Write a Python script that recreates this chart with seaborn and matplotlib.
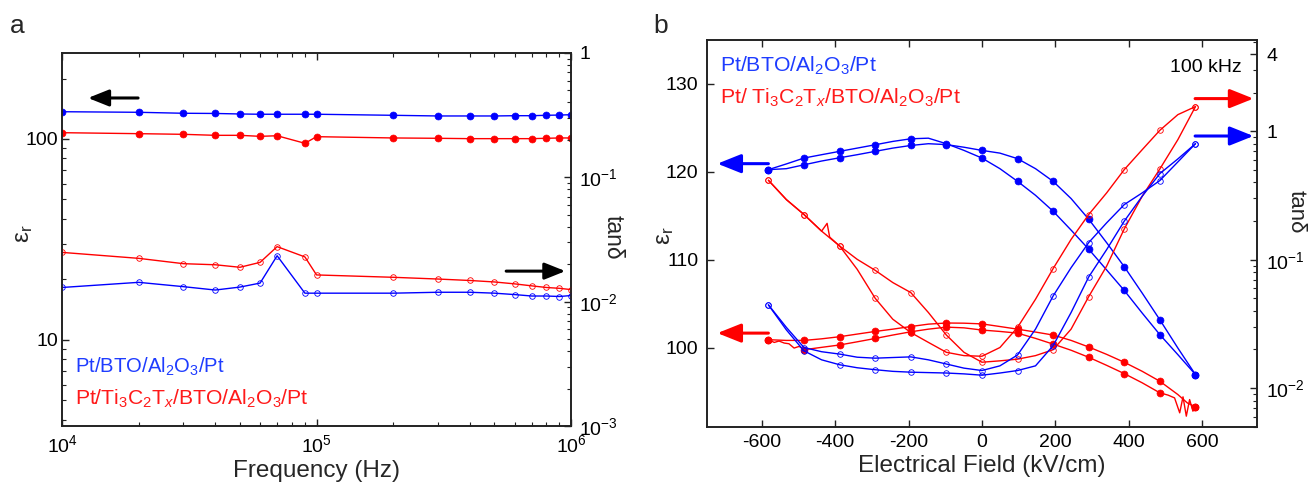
import numpy as np
import matplotlib
matplotlib.use("Agg")
import matplotlib.pyplot as plt
from matplotlib import ticker
import seaborn as sns

# ---------------- data: panel a (frequency dependence) ----------------
freq = [1e4, 2e4, 3e4, 4e4, 5e4, 6e4, 7e4, 9e4, 1e5, 2e5, 3e5, 4e5, 5e5, 6e5, 7e5, 8e5, 9e5, 1e6]
eps_blue_f = [136.7, 135.8, 134.3, 134.0, 133.2, 132.8, 132.8, 132.8, 132.8, 131.2, 130.2, 130.2,
              130.2, 130.6, 130.6, 131.2, 131.6, 132.1]
eps_red_f = [107.5, 106.3, 105.5, 104.3, 104.3, 103.1, 103.8, 95.2, 102.7, 101.2, 100.8, 100.4,
             100.4, 100.4, 100.4, 100.8, 101.2, 101.2]
tan_blue_f = [0.0130, 0.0143, 0.0132, 0.0124, 0.0131, 0.0141, 0.0234, 0.0117, 0.0117, 0.0117, 0.0119,
              0.0119, 0.0117, 0.0114, 0.0111, 0.0111, 0.0110, 0.0112]
tan_red_f = [0.0249, 0.0223, 0.0202, 0.0198, 0.0189, 0.0207, 0.0277, 0.0229, 0.0164, 0.0157, 0.0152,
             0.0148, 0.0144, 0.0139, 0.0134, 0.0130, 0.0128, 0.0125]

# ---------------- data: panel b (field dependence, 100 kHz) ----------------
E_marks = [-582, -485, -388, -291, -194, -97, 0, 97, 194, 291, 388, 485, 582]
E_grid = [-582, -533, -485, -437, -388, -340, -291, -243, -194, -146, -97, -49, 0,
          49, 97, 146, 194, 243, 291, 340, 388, 437, 485, 534, 582]

eps_blue_1 = [120.25, 120.9, 121.57, 121.95, 122.33, 122.7, 123.08, 123.46, 123.76, 123.83, 123.2, 122.44,
              121.57, 120.36, 118.92, 117.33, 115.52, 113.37, 111.2, 108.83, 106.5, 103.92, 101.47, 99.2, 96.93]
eps_blue_2 = [120.25, 120.36, 120.8, 121.23, 121.6, 121.95, 122.33, 122.7, 123.0, 123.2, 123.1, 122.8,
              122.44, 122.13, 121.5, 120.36, 118.92, 116.96, 114.61, 111.93, 109.2, 106.19, 103.16, 99.95, 96.93]

E_red_u = [-582, -533, -485, -437, -388, -340, -291, -243, -194, -146, -97, -49, 0,
           49, 97, 146, 194, 243, 291, 340, 388, 437, 485, 534, 560, 582]
eps_red_u = [100.9, 100.82, 100.82, 101.0, 101.24, 101.54, 101.84, 102.1, 102.4, 102.67, 102.8, 102.78,
             102.7, 102.4, 102.1, 101.77, 101.43, 100.82, 100.07, 99.23, 98.33, 97.3, 96.17, 94.66, 93.7, 93.26]
E_red_l = [-582, -566, -553, -539, -526, -512, -498, -485, -437, -388, -340, -291, -243, -194, -146, -97,
           -49, 0, 49, 97, 146, 194, 243, 291, 340, 388, 437, 485, 507, 525, 539, 548, 557, 566, 575, 582]
eps_red_l = [100.9, 100.59, 100.75, 100.52, 100.44, 99.95, 100.14, 99.76, 100.03, 100.3, 100.66, 101.04,
             101.43, 101.8, 102.1, 102.33, 102.25, 102.0, 101.84, 101.65, 101.05, 100.4, 99.7, 98.9, 97.98,
             97.04, 95.99, 94.85, 94.6, 94.28, 92.58, 94.4, 92.2, 94.09, 92.77, 93.26]

tan_blue_1 = [0.0445, 0.0297, 0.0207, 0.0192, 0.0184, 0.0174, 0.0171, 0.0173, 0.0175, 0.0166, 0.0154, 0.0143,
              0.0137, 0.0149, 0.0181, 0.0288, 0.0522, 0.0867, 0.136, 0.194, 0.269, 0.332, 0.414, 0.578, 0.802]
tan_blue_2 = [0.0445, 0.0284, 0.0195, 0.0166, 0.0152, 0.0144, 0.0139, 0.0135, 0.0133, 0.0132, 0.0131, 0.0129,
              0.0126, 0.0131, 0.0137, 0.0149, 0.0214, 0.0388, 0.0734, 0.120, 0.200, 0.313, 0.469, 0.61, 0.802]

E_tan_red_1 = [-582, -533, -485, -437, -422, -415, -388, -340, -291, -243, -194, -146, -97, -49, 0,
               49, 97, 146, 194, 243, 291, 340, 388, 437, 485, 534, 582]
tan_red_1 = [0.416, 0.294, 0.225, 0.167, 0.192, 0.150, 0.128, 0.0842, 0.0501, 0.0344, 0.0271, 0.0227,
             0.0190, 0.0179, 0.0177, 0.0207, 0.0297, 0.0492, 0.0853, 0.144, 0.225, 0.332, 0.504, 0.721,
             1.02, 1.35, 1.56]
tan_red_2 = [0.416, 0.294, 0.225, 0.167, 0.128, 0.1007, 0.0827, 0.0664, 0.0555, 0.0388, 0.0259, 0.0190,
             0.0159, 0.0163, 0.0168, 0.0179, 0.0199, 0.0288, 0.0516, 0.0893, 0.174, 0.313, 0.510, 0.862, 1.56]

# ---------------- style ----------------
sns.set_style("ticks")
plt.rcParams['font.family'] = ['Liberation Sans', 'DejaVu Sans']
plt.rcParams['mathtext.fontset'] = 'custom'
plt.rcParams['mathtext.rm'] = 'Liberation Sans'
plt.rcParams['mathtext.it'] = 'Liberation Sans:italic'
plt.rcParams['mathtext.bf'] = 'Liberation Sans:bold'
plt.rcParams['axes.linewidth'] = 1.2
plt.rcParams['axes.edgecolor'] = '#222222'
plt.rcParams['axes.unicode_minus'] = False

BLUE = '#0000FF'
RED = '#FF0000'
TBLUE = '#1E3CFF'
TRED = '#FF1A1A'
TICK_FS = 14
LAB_FS = 17.5

fig = plt.figure(figsize=(13.11, 4.82), dpi=100)
axA = fig.add_axes([0.0473, 0.1162, 0.3883, 0.7739])
axB = fig.add_axes([0.5391, 0.1147, 0.4198, 0.8023])
axA2 = axA.twinx()
axB2 = axB.twinx()


def draw(ax, x, y, color, filled, mark_idx=None, lw=1.0):
    if filled:
        style = dict(marker='o', markersize=5.0, markerfacecolor=color, markeredgecolor=color,
                     markeredgewidth=0.5)
    else:
        style = dict(marker='o', markersize=4.0, markerfacecolor='none', markeredgecolor=color,
                     markeredgewidth=0.6)
    if mark_idx is not None:
        style['markevery'] = mark_idx
    sns.lineplot(x=np.asarray(x, float), y=np.asarray(y, float), ax=ax, color=color, lw=lw,
                 sort=False, estimator=None, legend=False, **style)


def marks_for(E):
    return [i for i, e in enumerate(E) if e in E_marks]


def place_ylabel(ax, text, x, y=0.5, rotation=90, fs=LAB_FS):
    ax.set_ylabel(text, fontsize=fs, rotation=rotation, ha='center', va='center',
                  rotation_mode='default')
    ax.yaxis.set_label_coords(x, y)


# ---------------- panel a ----------------
for ax in (axA, axA2):
    ax.set_xscale('log')
axA.set_yscale('log')
axA2.set_yscale('log')

draw(axA, freq, eps_blue_f, BLUE, True)
draw(axA, freq, eps_red_f, RED, True)
draw(axA2, freq, tan_red_f, RED, False)
draw(axA2, freq, tan_blue_f, BLUE, False)

axA.set_xlim(1e4, 1e6)
axA.set_ylim(3.73, 268)
axA2.set_ylim(1e-3, 1)

axA.xaxis.set_major_locator(ticker.FixedLocator([1e4, 1e5, 1e6]))
axA.xaxis.set_major_formatter(ticker.FixedFormatter([r'$10^4$', r'$10^5$', r'$10^6$']))
axA.xaxis.set_minor_locator(ticker.LogLocator(base=10, subs=np.arange(2, 10), numticks=20))
axA.xaxis.set_minor_formatter(ticker.NullFormatter())
axA.yaxis.set_major_locator(ticker.FixedLocator([10, 100]))
axA.yaxis.set_major_formatter(ticker.FixedFormatter(['10', '100']))
axA.yaxis.set_minor_locator(ticker.LogLocator(base=10, subs=np.arange(2, 10), numticks=20))
axA.yaxis.set_minor_formatter(ticker.NullFormatter())
axA2.yaxis.set_major_locator(ticker.FixedLocator([1e-3, 1e-2, 1e-1, 1]))
axA2.yaxis.set_major_formatter(ticker.FixedFormatter([r'$10^{-3}$', r'$10^{-2}$', r'$10^{-1}$', '1']))
axA2.yaxis.set_minor_locator(ticker.LogLocator(base=10, subs=np.arange(2, 10), numticks=20))
axA2.yaxis.set_minor_formatter(ticker.NullFormatter())

axA.tick_params(which='both', direction='in', top=True, right=False, labelsize=TICK_FS, colors='#222222',
                labelcolor='black')
axA.tick_params(which='major', length=5, width=1)
axA.tick_params(which='minor', length=3, width=0.8)
axA.tick_params(axis='x', which='both', pad=6)
axA.tick_params(axis='y', which='both', pad=3)
axA2.tick_params(which='both', direction='in', right=True, labelsize=TICK_FS, colors='#222222',
                 labelcolor='black', pad=6)
axA2.tick_params(which='major', length=5, width=1)
axA2.tick_params(which='minor', length=3, width=0.8)

axA.set_xlabel('Frequency (Hz)', fontsize=LAB_FS, labelpad=3)
place_ylabel(axA, r'ε$_{\rm r}$', -0.0756, 0.515)
place_ylabel(axA2, 'tanδ', 1.0825, 0.507, rotation=270, fs=16.5)

arrow_k = dict(arrowstyle='-|>,head_length=0.7,head_width=0.28', color='black', lw=2.2,
               mutation_scale=18, shrinkA=0, shrinkB=0)
axA.annotate('', xy=(1.265e4, 160), xytext=(1.99e4, 160), arrowprops=arrow_k)
axA2.annotate('', xy=(9.5e5, 0.0176), xytext=(5.56e5, 0.0176), arrowprops=arrow_k)

axA.text(0.0255, 0.142, r'Pt/BTO/Al$_2$O$_3$/Pt', transform=axA.transAxes, color=TBLUE,
         fontsize=14.6, va='baseline', ha='left')
axA.text(0.0255, 0.056, r'Pt/Ti$_3$C$_2$T$_{\it x}$/BTO/Al$_2$O$_3$/Pt', transform=axA.transAxes,
         color=TRED, fontsize=15.2, va='baseline', ha='left')

# ---------------- panel b ----------------
axB2.set_yscale('log')
draw(axB2, E_tan_red_1, tan_red_1, RED, False, marks_for(E_tan_red_1))
draw(axB2, E_grid, tan_red_2, RED, False, marks_for(E_grid))
draw(axB2, E_grid, tan_blue_1, BLUE, False, marks_for(E_grid))
draw(axB2, E_grid, tan_blue_2, BLUE, False, marks_for(E_grid))
draw(axB, E_red_u, eps_red_u, RED, True, marks_for(E_red_u))
draw(axB, E_red_l, eps_red_l, RED, True, marks_for(E_red_l))
draw(axB, E_grid, eps_blue_1, BLUE, True, marks_for(E_grid))
draw(axB, E_grid, eps_blue_2, BLUE, True, marks_for(E_grid))

axB.set_xlim(-750, 750)
axB.set_ylim(91, 135)
axB2.set_ylim(0.005, 5.15)
axB.xaxis.set_major_locator(ticker.FixedLocator([-600, -400, -200, 0, 200, 400, 600]))
axB.yaxis.set_major_locator(ticker.FixedLocator([100, 110, 120, 130]))
axB2.yaxis.set_major_locator(ticker.FixedLocator([0.01, 0.1, 1, 4]))
axB2.yaxis.set_major_formatter(ticker.FixedFormatter([r'$10^{-2}$', r'$10^{-1}$', '1', '4']))
axB2.yaxis.set_minor_locator(ticker.LogLocator(base=10, subs=np.arange(2, 10), numticks=20))
axB2.yaxis.set_minor_formatter(ticker.NullFormatter())

axB.tick_params(which='both', direction='in', top=True, right=False, labelsize=TICK_FS, colors='#222222',
                labelcolor='black', length=5, width=1)
axB.tick_params(axis='x', pad=5)
axB.tick_params(axis='y', pad=6)
axB2.tick_params(which='both', direction='in', right=True, labelsize=TICK_FS, colors='#222222',
                 labelcolor='black', pad=6.5)
axB2.tick_params(which='major', length=5, width=1)
axB2.tick_params(which='minor', length=3, width=0.8)

axB.set_xlabel('Electrical Field (kV/cm)', fontsize=LAB_FS, labelpad=3)
place_ylabel(axB, r'ε$_{\rm r}$', -0.0758, 0.495)
place_ylabel(axB2, 'tanδ', 1.071, 0.555, rotation=270, fs=16)

arrow_b = dict(arrowstyle='-|>,head_length=0.8,head_width=0.32', lw=2.2, mutation_scale=18,
               shrinkA=0, shrinkB=0)
axB.annotate('', xy=(-721, 120.93), xytext=(-582, 120.93), arrowprops=dict(arrow_b, color=BLUE))
axB.annotate('', xy=(-721, 101.65), xytext=(-582, 101.65), arrowprops=dict(arrow_b, color=RED))
axB2.annotate('', xy=(740, 1.80), xytext=(581, 1.80), arrowprops=dict(arrow_b, color=RED))
axB2.annotate('', xy=(740, 0.92), xytext=(581, 0.92), arrowprops=dict(arrow_b, color=BLUE))

axB.text(0.024, 0.918, r'Pt/BTO/Al$_2$O$_3$/Pt', transform=axB.transAxes, color=TBLUE,
         fontsize=15.3, va='baseline', ha='left')
axB.text(0.024, 0.834, r'Pt/ Ti$_3$C$_2$T$_{\it x}$/BTO/Al$_2$O$_3$/Pt', transform=axB.transAxes,
         color=TRED, fontsize=15.3, va='baseline', ha='left')
axB.text(0.972, 0.918, '100 kHz', transform=axB.transAxes, color='black', fontsize=14,
         va='baseline', ha='right')

fig.text(10 / 1311, 1 - 33 / 482, 'a', fontsize=19, va='baseline', ha='left')
fig.text(653 / 1311, 1 - 33 / 482, 'b', fontsize=19, va='baseline', ha='left')

fig.savefig('out.png', dpi=100, facecolor='white')
